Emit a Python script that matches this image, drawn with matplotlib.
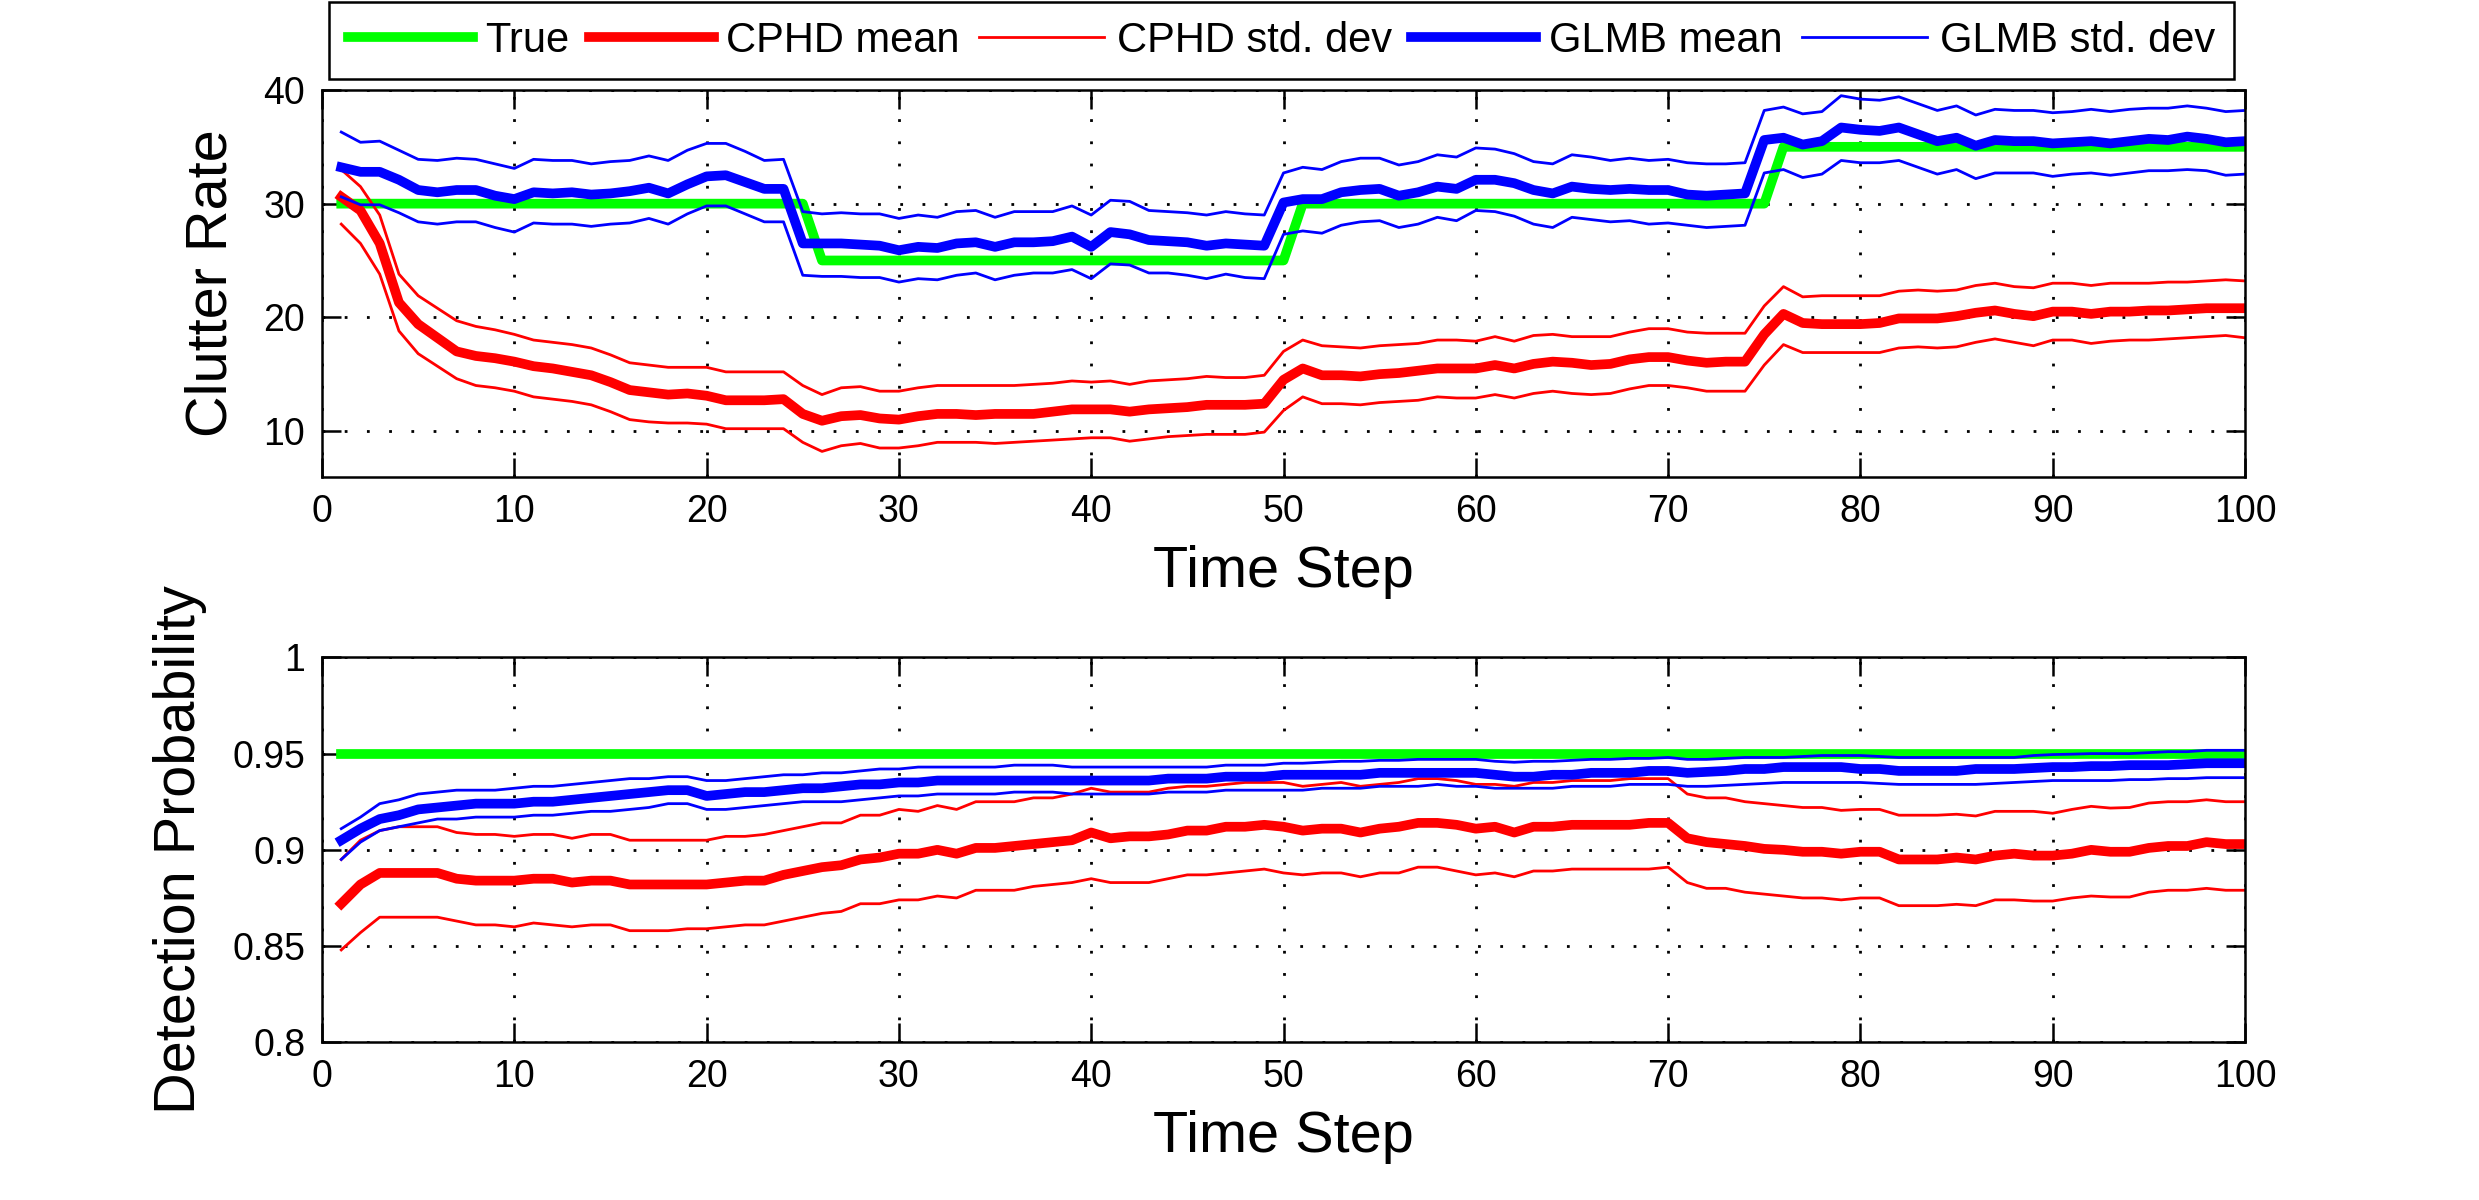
import numpy as np
import matplotlib
matplotlib.use("Agg")
import matplotlib.pyplot as plt

plt.rcParams['font.family'] = ['Liberation Sans', 'DejaVu Sans']

# time steps
k = np.arange(1, 101)

# ---- clutter rate panel ----
true_rate = [30] * 25 + [25] * 25 + [30] * 25 + [35] * 25

cphd_mean_rate = [
    30.6, 29.4, 26.5, 21.3, 19.4, 18.2, 17.0, 16.6, 16.4, 16.1,
    15.7, 15.5, 15.2, 14.9, 14.3, 13.6, 13.4, 13.2, 13.3, 13.1,
    12.7, 12.7, 12.7, 12.8, 11.5, 10.9, 11.3, 11.4, 11.1, 11.0,
    11.3, 11.5, 11.5, 11.4, 11.5, 11.5, 11.5, 11.7, 11.9, 11.9,
    11.9, 11.7, 11.9, 12.0, 12.1, 12.3, 12.3, 12.3, 12.4, 14.5,
    15.5, 14.9, 14.9, 14.8, 15.0, 15.1, 15.3, 15.5, 15.5, 15.5,
    15.8, 15.5, 15.9, 16.1, 16.0, 15.8, 15.9, 16.3, 16.5, 16.5,
    16.2, 16.0, 16.1, 16.1, 18.5, 20.3, 19.5, 19.4, 19.4, 19.4,
    19.5, 19.9, 19.9, 19.9, 20.1, 20.4, 20.6, 20.3, 20.1, 20.5,
    20.5, 20.3, 20.5, 20.5, 20.6, 20.6, 20.7, 20.8, 20.8, 20.8]

cphd_upper_rate = [
    33.0, 31.5, 29.0, 23.8, 21.9, 20.8, 19.7, 19.2, 18.9, 18.5,
    18.0, 17.8, 17.6, 17.3, 16.7, 16.0, 15.8, 15.6, 15.6, 15.6,
    15.2, 15.2, 15.2, 15.2, 14.0, 13.2, 13.8, 13.9, 13.5, 13.5,
    13.8, 14.0, 14.0, 14.0, 14.0, 14.0, 14.1, 14.2, 14.4, 14.3,
    14.4, 14.1, 14.4, 14.5, 14.6, 14.8, 14.7, 14.7, 14.9, 17.0,
    18.0, 17.5, 17.4, 17.3, 17.5, 17.6, 17.7, 18.0, 18.0, 17.9,
    18.3, 17.9, 18.4, 18.5, 18.3, 18.3, 18.3, 18.7, 19.0, 19.0,
    18.7, 18.6, 18.6, 18.6, 21.0, 22.7, 21.8, 21.9, 21.9, 21.9,
    21.9, 22.3, 22.4, 22.3, 22.4, 22.8, 23.0, 22.7, 22.6, 23.0,
    23.0, 22.8, 23.0, 23.0, 23.0, 23.1, 23.1, 23.2, 23.3, 23.2]

cphd_lower_rate = [
    28.2, 26.5, 23.8, 18.8, 16.8, 15.7, 14.6, 14.0, 13.8, 13.5,
    13.0, 12.8, 12.6, 12.3, 11.7, 11.0, 10.8, 10.7, 10.7, 10.6,
    10.2, 10.2, 10.2, 10.2, 9.0, 8.2, 8.7, 8.9, 8.5, 8.5,
    8.7, 9.0, 9.0, 9.0, 8.9, 9.0, 9.1, 9.2, 9.3, 9.4,
    9.4, 9.1, 9.3, 9.5, 9.6, 9.7, 9.7, 9.7, 9.9, 11.8,
    13.0, 12.4, 12.4, 12.3, 12.5, 12.6, 12.7, 13.0, 12.9, 12.9,
    13.2, 12.9, 13.3, 13.5, 13.3, 13.2, 13.3, 13.7, 14.0, 14.0,
    13.8, 13.5, 13.5, 13.5, 15.8, 17.6, 16.9, 16.9, 16.9, 16.9,
    16.9, 17.3, 17.4, 17.3, 17.4, 17.8, 18.1, 17.8, 17.5, 18.0,
    18.0, 17.7, 17.9, 18.0, 18.0, 18.1, 18.2, 18.3, 18.4, 18.2]

glmb_mean_rate = [
    33.2, 32.8, 32.8, 32.1, 31.2, 31.0, 31.2, 31.2, 30.7, 30.4,
    31.0, 30.9, 31.0, 30.8, 30.9, 31.1, 31.4, 30.9, 31.7, 32.4,
    32.5, 31.9, 31.3, 31.3, 26.5, 26.5, 26.5, 26.4, 26.3, 25.9,
    26.2, 26.1, 26.5, 26.6, 26.2, 26.6, 26.6, 26.7, 27.1, 26.2,
    27.5, 27.3, 26.8, 26.7, 26.6, 26.3, 26.5, 26.4, 26.3, 30.1,
    30.4, 30.4, 31.0, 31.2, 31.3, 30.7, 31.0, 31.5, 31.3, 32.1,
    32.1, 31.8, 31.2, 30.9, 31.5, 31.3, 31.2, 31.3, 31.2, 31.2,
    30.8, 30.7, 30.8, 30.9, 35.6, 35.8, 35.2, 35.5, 36.7, 36.5,
    36.4, 36.7, 36.1, 35.5, 35.8, 35.1, 35.6, 35.5, 35.5, 35.3,
    35.4, 35.5, 35.3, 35.5, 35.7, 35.6, 35.9, 35.7, 35.4, 35.5]

glmb_upper_rate = [
    36.3, 35.4, 35.5, 34.7, 33.9, 33.8, 34.0, 33.9, 33.5, 33.1,
    33.9, 33.8, 33.8, 33.5, 33.7, 33.8, 34.2, 33.8, 34.7, 35.3,
    35.3, 34.6, 33.8, 33.9, 29.3, 29.1, 29.2, 29.1, 29.1, 28.7,
    29.0, 28.8, 29.3, 29.4, 28.8, 29.3, 29.3, 29.3, 29.8, 29.0,
    30.3, 30.2, 29.4, 29.3, 29.2, 29.0, 29.3, 29.1, 29.0, 32.7,
    33.2, 33.0, 33.7, 34.0, 34.0, 33.4, 33.7, 34.3, 34.1, 34.9,
    34.8, 34.4, 33.7, 33.5, 34.3, 34.1, 33.8, 34.0, 33.8, 33.9,
    33.6, 33.5, 33.5, 33.6, 38.2, 38.5, 37.9, 38.1, 39.5, 39.2,
    39.1, 39.4, 38.8, 38.2, 38.6, 37.8, 38.3, 38.2, 38.2, 38.0,
    38.1, 38.3, 38.1, 38.3, 38.4, 38.4, 38.6, 38.4, 38.1, 38.2]

glmb_lower_rate = [
    30.6, 29.9, 29.9, 29.2, 28.4, 28.2, 28.4, 28.4, 27.9, 27.5,
    28.3, 28.2, 28.2, 28.0, 28.2, 28.3, 28.7, 28.2, 29.1, 29.8,
    29.8, 29.1, 28.4, 28.4, 23.7, 23.6, 23.6, 23.5, 23.5, 23.1,
    23.4, 23.3, 23.7, 23.9, 23.3, 23.7, 23.9, 23.9, 24.2, 23.4,
    24.7, 24.6, 23.9, 23.9, 23.7, 23.4, 23.8, 23.5, 23.4, 27.3,
    27.6, 27.4, 28.1, 28.4, 28.5, 27.9, 28.2, 28.8, 28.5, 29.4,
    29.3, 28.9, 28.2, 27.9, 28.8, 28.6, 28.4, 28.5, 28.2, 28.3,
    28.1, 27.9, 28.0, 28.1, 32.7, 33.0, 32.3, 32.6, 33.8, 33.6,
    33.6, 33.8, 33.2, 32.6, 33.0, 32.2, 32.7, 32.7, 32.7, 32.4,
    32.6, 32.7, 32.5, 32.7, 32.9, 32.9, 33.0, 32.9, 32.5, 32.6]

# ---- detection probability panel ----
true_pd = [0.95] * 100

cphd_mean_pd = [
    .872, .882, .888, .888, .888, .888, .885, .884, .884, .884,
    .885, .885, .883, .884, .884, .882, .882, .882, .882, .882,
    .883, .884, .884, .887, .889, .891, .892, .895, .896, .898,
    .898, .900, .898, .901, .901, .902, .903, .904, .905, .909,
    .906, .907, .907, .908, .910, .910, .912, .912, .913, .912,
    .910, .911, .911, .909, .911, .912, .914, .914, .913, .911,
    .912, .909, .912, .912, .913, .913, .913, .913, .914, .914,
    .906, .904, .903, .902, .9005, .900, .899, .899, .898, .899,
    .899, .895, .895, .895, .896, .895, .897, .898, .897, .897,
    .898, .900, .899, .899, .901, .902, .902, .904, .903, .903]

cphd_upper_pd = [
    .895, .905, .910, .912, .912, .912, .909, .908, .908, .907,
    .908, .908, .906, .908, .908, .905, .905, .905, .905, .905,
    .907, .907, .908, .910, .912, .914, .914, .918, .918, .921,
    .920, .923, .921, .925, .925, .925, .927, .927, .929, .932,
    .930, .930, .930, .932, .933, .933, .934, .935, .935, .935,
    .933, .934, .935, .933, .934, .935, .937, .937, .936, .934,
    .934, .933, .935, .935, .936, .936, .936, .937, .937, .937,
    .929, .927, .927, .925, .924, .923, .922, .922, .9205, .921,
    .921, .918, .918, .918, .9185, .9176, .920, .920, .920, .919,
    .921, .9226, .9217, .922, .9243, .925, .925, .926, .925, .925]

cphd_lower_pd = [
    .848, .857, .865, .865, .865, .865, .863, .861, .861, .860,
    .862, .861, .860, .861, .861, .858, .858, .858, .859, .859,
    .860, .861, .861, .863, .865, .867, .868, .872, .872, .874,
    .874, .876, .875, .879, .879, .879, .881, .882, .883, .885,
    .883, .883, .883, .885, .887, .887, .888, .889, .890, .888,
    .887, .888, .888, .886, .888, .888, .891, .891, .889, .887,
    .888, .886, .889, .889, .890, .890, .890, .890, .890, .891,
    .883, .880, .880, .878, .877, .876, .875, .875, .874, .875,
    .875, .871, .871, .871, .8717, .871, .874, .874, .8734, .8734,
    .875, .876, .8755, .8755, .878, .879, .879, .880, .879, .879]

glmb_mean_pd = [
    .905, .911, .916, .918, .921, .922, .923, .924, .924, .924,
    .925, .925, .926, .927, .928, .929, .930, .931, .931, .928,
    .929, .930, .930, .931, .932, .932, .933, .934, .934, .935,
    .935, .936, .936, .936, .936, .936, .936, .936, .936, .936,
    .936, .936, .936, .937, .937, .937, .938, .938, .938, .939,
    .939, .939, .939, .939, .940, .940, .940, .940, .940, .940,
    .939, .938, .938, .939, .939, .940, .940, .940, .941, .941,
    .940, .9405, .941, .942, .942, .943, .943, .943, .943, .942,
    .942, .941, .941, .941, .941, .942, .942, .942, .9425, .943,
    .943, .9435, .9435, .944, .944, .944, .9445, .945, .945, .945]

glmb_upper_pd = [
    .911, .917, .924, .926, .929, .930, .931, .931, .931, .932,
    .933, .933, .934, .935, .936, .937, .937, .938, .938, .936,
    .936, .937, .938, .939, .939, .940, .940, .941, .942, .942,
    .943, .943, .943, .943, .943, .944, .944, .944, .943, .943,
    .943, .943, .943, .943, .943, .943, .944, .944, .944, .945,
    .945, .9455, .946, .946, .9465, .9465, .947, .947, .947, .947,
    .946, .9455, .946, .946, .9465, .947, .947, .9475, .9475, .948,
    .947, .947, .9475, .948, .948, .948, .9485, .949, .949, .949,
    .9485, .948, .948, .948, .948, .948, .948, .948, .949, .9495,
    .9497, .950, .950, .950, .9505, .951, .951, .9517, .9517, .9517]

glmb_lower_pd = [
    .895, .904, .910, .912, .914, .916, .916, .917, .917, .917,
    .918, .918, .919, .920, .920, .921, .922, .924, .924, .921,
    .921, .922, .923, .924, .925, .925, .925, .926, .927, .928,
    .928, .929, .929, .929, .929, .930, .930, .930, .929, .929,
    .929, .929, .929, .930, .930, .930, .931, .931, .931, .931,
    .931, .932, .932, .932, .933, .933, .933, .934, .933, .933,
    .932, .932, .932, .932, .933, .933, .933, .934, .934, .934,
    .933, .933, .9335, .934, .9345, .935, .935, .935, .935, .935,
    .9345, .934, .934, .934, .934, .934, .9345, .935, .9355, .936,
    .936, .936, .936, .9365, .9365, .937, .937, .9375, .9375, .9375]

labels = ['True', 'CPHD mean', 'CPHD std. dev', 'GLMB mean', 'GLMB std. dev']
thick = 7
thin = 2


def draw_panel(ax, tru, cm, cu, cl, gm, gu, gl):
    h1, = ax.plot(k, tru, color='#00ff00', lw=thick)
    h2, = ax.plot(k, cm, color='#ff0000', lw=thick)
    h3, = ax.plot(k, cu, color='#ff0000', lw=thin)
    ax.plot(k, cl, color='#ff0000', lw=thin)
    h4, = ax.plot(k, gm, color='#0000ff', lw=thick)
    h5, = ax.plot(k, gu, color='#0000ff', lw=thin)
    ax.plot(k, gl, color='#0000ff', lw=thin)
    ax.set_xlim(0, 100)
    ax.set_xticks(np.arange(0, 101, 10))
    ax.grid(True, color='k', linestyle=(0, (1, 7)), linewidth=2)
    ax.set_axisbelow(True)
    ax.tick_params(direction='in', length=14, width=1.8, top=True, right=True,
                   labelsize=27, pad=12)
    for s in ax.spines.values():
        s.set_linewidth(1.8)
    ax.set_xlabel('Time Step', fontsize=41.5, labelpad=11)
    return [h1, h2, h3, h4, h5]


fig = plt.figure(figsize=(24.79, 12), dpi=100)

ax1 = fig.add_axes([0.1299, 0.6025, 0.7757, 0.3225])
handles = draw_panel(ax1, true_rate, cphd_mean_rate, cphd_upper_rate, cphd_lower_rate,
                     glmb_mean_rate, glmb_upper_rate, glmb_lower_rate)
ax1.set_ylim(5.95, 40)
ax1.set_yticks([10, 20, 30, 40])
ax1.set_ylabel('Clutter Rate', fontsize=41.5, labelpad=18)

ax2 = fig.add_axes([0.1299, 0.1314, 0.7757, 0.3208])
draw_panel(ax2, true_pd, cphd_mean_pd, cphd_upper_pd, cphd_lower_pd,
           glmb_mean_pd, glmb_upper_pd, glmb_lower_pd)
ax2.set_ylim(0.8, 1)
ax2.set_yticks([0.8, 0.85, 0.9, 0.95, 1])
ax2.set_yticklabels(['0.8', '0.85', '0.9', '0.95', '1'])
ax2.set_ylabel('Detection Probability', fontsize=41.5, labelpad=18)

leg = fig.legend(handles, labels, loc='center', ncol=5, mode='expand',
                 bbox_to_anchor=(0.1327, 0.935, 0.7683, 0.0625),
                 borderaxespad=0, fontsize=30, handlelength=3, handletextpad=0.3,
                 borderpad=0.45, fancybox=False, framealpha=1, edgecolor='k')
leg.get_frame().set_linewidth(1.8)

fig.savefig('out.png', dpi=100)
